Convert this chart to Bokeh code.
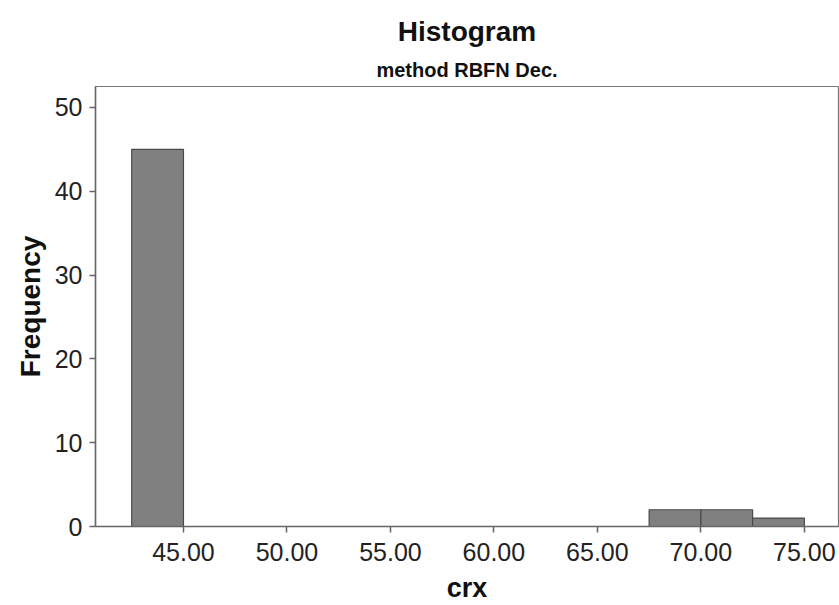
from bokeh.plotting import figure
from bokeh.models import FixedTicker, NumeralTickFormatter, Range1d, Title
from bokeh.embed import file_html
from bokeh.resources import INLINE

bin_left = [42.5, 67.5, 70.0, 72.5]
bin_right = [45.0, 70.0, 72.5, 75.0]
counts = [45, 2, 2, 1]
x_ticks = [45, 50, 55, 60, 65, 70, 75]
y_ticks = [0, 10, 20, 30, 40, 50]

FONT = "Liberation Sans"

p = figure(width=839, height=605, output_backend="svg", toolbar_location=None,
           x_range=Range1d(40.75, 76.65), y_range=Range1d(0, 52.5),
           min_border_left=95, min_border_right=1, min_border_bottom=70, min_border_top=0)

p.quad(left=bin_left, right=bin_right, bottom=0, top=counts,
       fill_color="#808080", line_color="#4a4a4a", line_width=1.2)

p.add_layout(Title(text="method RBFN Dec.", align="center", text_font=FONT,
                   text_font_size="20px", text_font_style="bold", text_color="#111111",
                   standoff=11), "above")
p.add_layout(Title(text="Histogram", align="center", text_font=FONT,
                   text_font_size="28px", text_font_style="bold", text_color="#111111",
                   standoff=10), "above")
p.add_layout(Title(text=" ", align="center", text_font=FONT,
                   text_font_size="6px", standoff=0), "above")

p.xgrid.visible = False
p.ygrid.visible = False
p.outline_line_color = "#777777"
p.outline_line_width = 1.2

for ax in (p.xaxis, p.yaxis):
    ax.axis_line_color = "#666666"
    ax.axis_line_width = 1.5
    ax.major_tick_line_color = "#666666"
    ax.major_tick_line_width = 1.5
    ax.major_tick_in = 0
    ax.major_tick_out = 6
    ax.minor_tick_line_color = None
    ax.major_label_text_font = FONT
    ax.major_label_text_font_size = "25px"
    ax.major_label_text_color = "#222222"
    ax.axis_label_text_font = FONT
    ax.axis_label_text_font_size = "28px"
    ax.axis_label_text_font_style = "bold"
    ax.axis_label_text_color = "#111111"

p.xaxis.axis_label_text_font_size = "27px"
p.xaxis.ticker = FixedTicker(ticks=x_ticks)
p.xaxis.formatter = NumeralTickFormatter(format="0.00")
p.yaxis.ticker = FixedTicker(ticks=y_ticks)
p.xaxis.axis_label = "crx"
p.yaxis.axis_label = "Frequency"
p.xaxis.major_label_standoff = 10
p.xaxis.axis_label_standoff = 9
p.yaxis.major_label_standoff = 7
p.yaxis.axis_label_standoff = 6

open("out.html", "w").write(file_html(p, INLINE))
